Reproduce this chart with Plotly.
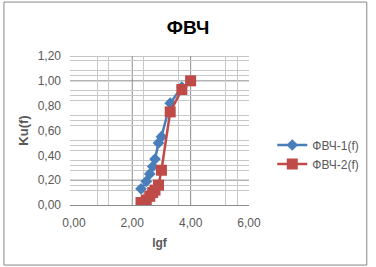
import plotly.graph_objects as go

# ---- data ----
lgf_1 = [2.30, 2.48, 2.60, 2.70, 2.78, 2.90, 3.00, 3.30, 3.70]
ku_1 = [0.13, 0.19, 0.25, 0.31, 0.37, 0.50, 0.55, 0.82, 0.95]

lgf_2 = [2.30, 2.48, 2.60, 2.70, 2.78, 2.90, 3.00, 3.30, 3.70, 4.00]
ku_2 = [0.02, 0.04, 0.07, 0.10, 0.12, 0.16, 0.28, 0.75, 0.93, 1.00]

series_names = ["ФВЧ-1(f)", "ФВЧ-2(f)"]
x_ticks = [0, 2, 4, 6]
y_ticks = [0, 0.2, 0.4, 0.6, 0.8, 1.0, 1.2]
x_minor_grid = [0.8, 1.2, 2.4, 3.6, 5.2, 5.6]
y_minor_grid = [0.12, 0.16, 0.28, 0.32, 0.36, 0.44, 0.48, 0.52, 0.64, 0.68,
                0.72, 0.84, 0.88, 0.92, 1.04, 1.08, 1.16]
x_major_grid = [2, 4]
y_major_grid = [0.2, 1.0, 1.2]

FONT = "Liberation Sans"
TXT = "#595959"
MAJOR = "#8C8C8C"
MINOR = "#C8C8C8"

fig = go.Figure()
fig.add_trace(go.Scatter(
    x=lgf_1, y=ku_1, name=series_names[0], mode="lines+markers",
    line=dict(color="#4A7EBB", width=2.5),
    marker=dict(symbol="diamond", size=9, color="#4A7EBB")))
fig.add_trace(go.Scatter(
    x=lgf_2, y=ku_2, name=series_names[1], mode="lines+markers",
    line=dict(color="#BE4B48", width=2.5),
    marker=dict(symbol="square", size=11, color="#BE4B48")))

shapes = []
for v in x_major_grid:
    shapes.append(dict(type="line", xref="x", yref="y domain", x0=v, x1=v, y0=0, y1=1,
                       line=dict(color=MAJOR, width=1), layer="below"))
for v in y_major_grid:
    shapes.append(dict(type="line", xref="x domain", yref="y", x0=0, x1=1, y0=v, y1=v,
                       line=dict(color=MAJOR, width=1), layer="below"))
# outer chart border
shapes.append(dict(type="rect", xref="paper", yref="paper",
                   x0=-0.369, x1=1.658, y0=-0.403, y1=1.362,
                   line=dict(color="#868686", width=1), fillcolor="rgba(0,0,0,0)"))

fig.update_layout(
    width=376, height=267,
    margin=dict(l=70, r=123, t=56, b=62),
    paper_bgcolor="white", plot_bgcolor="white",
    separators=", ",
    font=dict(family=FONT, size=12, color=TXT),
    title=dict(text="<b>ФВЧ</b>", x=0.5, xref="container", y=1 - 27 / 267,
               yref="container", xanchor="center", yanchor="middle",
               font=dict(family=FONT, size=19, color="black")),
    xaxis=dict(range=[-0.133, 6], tickvals=x_ticks, tickformat=".2f",
               showgrid=False, zeroline=False, showline=True, linecolor=MAJOR,
               linewidth=1, ticks="", ticklabelstandoff=7,
               minor=dict(tickvals=x_minor_grid, showgrid=True, gridcolor=MINOR, gridwidth=1),
               title=dict(text="<b>lgf</b>", standoff=9,
                          font=dict(family=FONT, size=12, color=TXT))),
    yaxis=dict(range=[0, 1.2], tickvals=y_ticks, tickformat=".2f",
               showgrid=False, zeroline=False, showline=False,
               ticks="", ticklabelstandoff=8,
               minor=dict(tickvals=y_minor_grid, showgrid=True, gridcolor=MINOR, gridwidth=1),
               title=dict(text="<b>Ku(f)</b>", standoff=6,
                          font=dict(family=FONT, size=13, color=TXT))),
    legend=dict(x=1.13, xanchor="left", y=0.50, yanchor="top",
                bgcolor="rgba(0,0,0,0)", font=dict(family=FONT, size=12, color=TXT)),
    shapes=shapes,
)

fig.write_html("out.html")
